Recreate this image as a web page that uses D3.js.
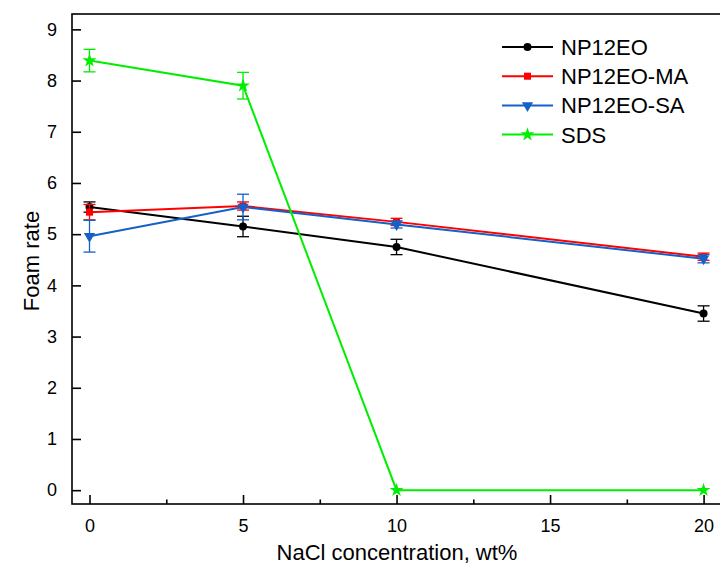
<!DOCTYPE html>
<html>
<head>
<meta charset="utf-8">
<script src="https://cdn.jsdelivr.net/npm/d3@7"></script>
<style>
  html, body { margin: 0; padding: 0; background: #fff; }
  svg { display: block; font-family: "Liberation Sans", Arial, sans-serif; }
</style>
</head>
<body>
<svg id="chart" width="720" height="572"></svg>
<script>
// NaCl concentration (wt%)
const concentrations = [0, 5, 10, 20];

const seriesNames = ["NP12EO", "NP12EO-MA", "NP12EO-SA", "SDS"];

// Foam rate for each surfactant
const np12eo   = [5.53, 5.15, 4.75, 3.45];
const np12eoMA = [5.43, 5.55, 5.24, 4.56];
const np12eoSA = [4.96, 5.53, 5.19, 4.52];
const sds      = [8.39, 7.90, 0.00, 0.00];

// Error bar half-widths
const np12eoErr   = [0.10, 0.20, 0.15, 0.15];
const np12eoMAErr = [0.15, 0.08, 0.07, 0.07];
const np12eoSAErr = [0.31, 0.25, 0.07, 0.08];
const sdsErr      = [0.22, 0.26, 0.00, 0.00];

const xTicks = [0, 5, 10, 15, 20];
const xMinorTicks = [2.5, 7.5, 12.5, 17.5];
const yTicks = [0, 1, 2, 3, 4, 5, 6, 7, 8, 9];

const series = [
  { name: seriesNames[0], values: np12eo,   errors: np12eoErr,   color: "#000000", symbol: "circle" },
  { name: seriesNames[1], values: np12eoMA, errors: np12eoMAErr, color: "#ff0000", symbol: "square" },
  { name: seriesNames[2], values: np12eoSA, errors: np12eoSAErr, color: "#1560c8", symbol: "triangleDown" },
  { name: seriesNames[3], values: sds,      errors: sdsErr,      color: "#00ee00", symbol: "star" }
];

const svg = d3.select("#chart");
const plotLeft = 72, plotRight = 722, plotTop = 14, plotBottom = 504;

const x = d3.scaleLinear().domain([-0.57, 20.6]).range([plotLeft, plotRight]);
const y = d3.scaleLinear().domain([-0.27, 9.3]).range([plotBottom, plotTop]);

// Frame
svg.append("rect")
  .attr("x", plotLeft).attr("y", plotTop)
  .attr("width", plotRight - plotLeft).attr("height", plotBottom - plotTop)
  .attr("fill", "none").attr("stroke", "#000").attr("stroke-width", 1.6);

// Bottom axis: major and minor ticks pointing inward
const xAxis = d3.axisBottom(x).tickValues(xTicks).tickSizeInner(-9).tickSizeOuter(0).tickPadding(15);
const gx = svg.append("g").attr("transform", `translate(0,${plotBottom})`).call(xAxis);
gx.select(".domain").remove();
gx.selectAll(".tick line").attr("stroke-width", 1.6);
gx.selectAll(".tick text").attr("font-size", 18).attr("fill", "#000")
  .attr("font-family", "Liberation Sans, Arial, sans-serif");

const xMinor = d3.axisBottom(x).tickValues(xMinorTicks).tickSizeInner(-4.5).tickSizeOuter(0).tickFormat("");
const gxm = svg.append("g").attr("transform", `translate(0,${plotBottom})`).call(xMinor);
gxm.select(".domain").remove();
gxm.selectAll(".tick line").attr("stroke-width", 1.6);

// Left axis
const yAxis = d3.axisLeft(y).tickValues(yTicks).tickSizeInner(-9).tickSizeOuter(0).tickPadding(15);
const gy = svg.append("g").attr("transform", `translate(${plotLeft},0)`).call(yAxis);
gy.select(".domain").remove();
gy.selectAll(".tick line").attr("stroke-width", 1.6);
gy.selectAll(".tick text").attr("font-size", 18).attr("fill", "#000")
  .attr("font-family", "Liberation Sans, Arial, sans-serif");

// Axis titles
svg.append("text")
  .attr("x", 397).attr("y", 560)
  .attr("text-anchor", "middle")
  .attr("font-size", 22)
  .text("NaCl concentration, wt%");

svg.append("text")
  .attr("transform", `translate(39,${(plotTop + plotBottom) / 2 + 2}) rotate(-90)`)
  .attr("text-anchor", "middle")
  .attr("font-size", 22)
  .text("Foam rate");

// Marker shapes
const symbolFor = {
  circle: d3.symbol().type(d3.symbolCircle).size(50),
  square: d3.symbol().type(d3.symbolSquare).size(50),
  triangleDown: d3.symbol().type(d3.symbolTriangle).size(55),
  star: d3.symbol().type(d3.symbolStar).size(60)
};
function drawMarker(g, s, cx, cy) {
  g.append("path")
    .attr("d", symbolFor[s.symbol]())
    .attr("transform", `translate(${cx},${cy})` + (s.symbol === "triangleDown" ? " rotate(180)" : ""))
    .attr("fill", s.color);
}

const line = d3.line().x((d, i) => x(concentrations[i])).y(d => y(d));

const plot = svg.append("g");
series.forEach(s => {
  const g = plot.append("g");
  g.append("path")
    .datum(s.values)
    .attr("d", line)
    .attr("fill", "none")
    .attr("stroke", s.color)
    .attr("stroke-width", 2);

  // Error bars with caps
  s.values.forEach((v, i) => {
    const e = s.errors[i];
    if (e <= 0) return;
    const cx = x(concentrations[i]);
    const y1 = y(v + e), y2 = y(v - e);
    g.append("line").attr("x1", cx).attr("x2", cx).attr("y1", y1).attr("y2", y2)
      .attr("stroke", s.color).attr("stroke-width", 1.3);
    [y1, y2].forEach(yy => {
      g.append("line").attr("x1", cx - 6).attr("x2", cx + 6).attr("y1", yy).attr("y2", yy)
        .attr("stroke", s.color).attr("stroke-width", 1.3);
    });
  });

  s.values.forEach((v, i) => drawMarker(g, s, x(concentrations[i]), y(v)));
});

// Legend
const legend = svg.append("g");
series.forEach((s, i) => {
  const ly = 47 + i * 29.2;
  const g = legend.append("g");
  g.append("line").attr("x1", 502).attr("x2", 553).attr("y1", ly).attr("y2", ly)
    .attr("stroke", s.color).attr("stroke-width", 2);
  drawMarker(g, s, 527.5, ly);
  g.append("text")
    .attr("x", 561).attr("y", ly + 8)
    .attr("font-size", 22)
    .text(s.name);
});
</script>
</body>
</html>
